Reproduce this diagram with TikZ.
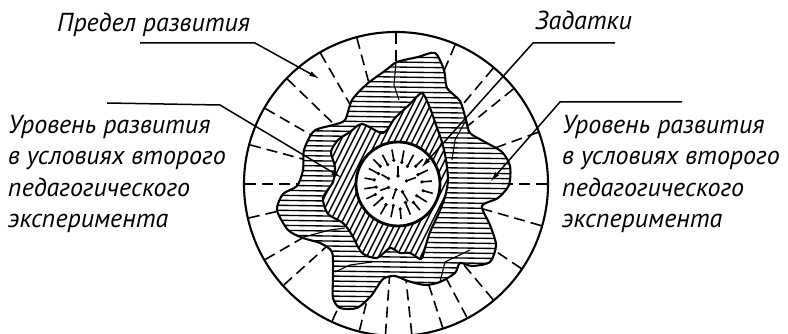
\documentclass[tikz,border=0pt]{standalone}
\usepackage{fontspec}
\setmainfont{PT Sans}
\usetikzlibrary{arrows.meta,calc}
\begin{document}
\begin{tikzpicture}[x=1pt,y=-1pt,
  lbl/.style={font=\itshape\fontsize{26}{31.5}\selectfont, inner sep=0pt, anchor=base west, align=left},
  leader/.style={line width=1.5pt, -{Latex[length=11pt,width=5pt]}},
  radial/.style={line width=1.6pt, dash pattern=on 11pt off 6pt},
  hatch/.style={line width=1.35pt},
  outline/.style={line width=2.1pt, line join=round}]
\useasboundingbox (0,0) rectangle (788,334);
\coordinate (c) at (396,184);
\def\outerblob{plot[smooth cycle, tension=0.45] coordinates {
 (397,62) (418,57) (435,53) (444,70) (447,88) (460,101) (466,120) (470,133) (485,142) (502,152) (510,166) (509,185) (498,198) (482,206) (490,225) (496,245) (490,262) (472,266) (460,263) (455,273) (440,282) (425,285) (408,281) (395,276) (383,279) (371,296) (357,308) (340,308) (333,298) (333,275) (332,252) (320,243) (303,238) (288,230) (277,210) (283,194) (297,186) (303,170) (304,150) (314,131) (333,125) (345,120) (352,100) (367,84) (386,70)}}
\def\innerstar{plot[smooth cycle, tension=0.45] coordinates {
 (422,93) (430,108) (436,125) (442,142) (446,160) (448,180) (445,197) (438,215) (430,232) (425,248) (421,259) (410,253) (400,253) (390,248) (377,258) (362,253) (352,235) (343,223) (328,214) (323,198) (333,182) (335,167) (331,152) (338,140) (350,132) (362,124) (383,133) (395,118) (410,104)}}
% outer circle
\draw[line width=2.1pt] (c) circle (152);
% radial dashed lines
\foreach \a in {0,20,39,50,67,90,105,120,136,150,165,180,193,210,222,245,256,266,276,288,298,310,326,344}
  \draw[radial] ($(c)+(-\a:151)$) -- ($(c)+(-\a:40)$);
% outer blob with horizontal hatching
\fill[white] \outerblob;
\begin{scope}
  \clip \outerblob;
  \foreach \y in {30,35,...,320} \draw[hatch] (260,\y) -- (530,\y+4);
  \draw[line width=1.1pt] (396,62) -- (394,85) -- (399,100);
  \draw[line width=1.1pt] (466,120) -- (455,140) -- (452,160);
  \draw[line width=1.1pt] (300,238) -- (330,230) -- (345,228);
  \draw[line width=1.1pt] (440,282) -- (445,262) -- (470,250);
  \draw[line width=1.1pt] (335,272) -- (350,265) -- (372,262);
\end{scope}
\draw[outline] \outerblob;
% inner star with diagonal hatching
\fill[white] \innerstar;
\begin{scope}
  \clip \innerstar;
  \foreach \x in {200,206,...,470} \draw[hatch] (\x,290) -- (\x+110,70);
\end{scope}
\draw[outline] \innerstar;
% inner circle
\fill[white] (398,184) circle (42);
\draw[line width=2.8pt] (398,184) circle (42);
% inner ticks (pins)
\foreach \a/\ri/\ro in {5/24/34,25/22/33,45/25/35,62/20/33,80/22/34,100/24/35,118/22/33,135/25/35,152/22/33,170/24/34,188/22/34,205/25/35,222/21/33,240/24/35,258/22/34,275/25/35,292/20/33,310/24/34,328/22/34,345/26/36,
  90/8/18,200/10/19,300/9/20,20/9/19,150/11/19,250/6/16}
{
  \draw[line width=1.6pt] ($(398,184)+(-\a:\ri)$) -- ($(398,184)+(-\a:\ro)$);
  \fill ($(398,184)+(-\a:\ri)$) circle (1.8);
}
% labels
\node[lbl] (tPredel) at (57,32) {Предел развития};
\node[lbl] (tZad) at (535,30) {Задатки};
\node[lbl] (tLeft) at (8,228) {Уровень развития\\в условиях второго\\педагогического\\эксперимента};
\node[lbl] (tRight) at (562,228) {Уровень развития\\в условиях второго\\педагогического\\эксперимента};
% leaders
\coordinate (p1a) at (140,43); \coordinate (p1b) at (255,43); \coordinate (p1c) at (320,79);
\coordinate (p2a) at (107,103); \coordinate (p2b) at (220,105); \coordinate (p2c) at (342,178);
\coordinate (p3a) at (615,43); \coordinate (p3b) at (533,43); \coordinate (p3c) at (421,168);
\coordinate (p4a) at (682,102); \coordinate (p4b) at (560,102); \coordinate (p4c) at (490,182);
\draw[leader] (p1a) -- (p1b) -- (p1c);
\draw[leader] (p2a) -- (p2b) -- (p2c);
\draw[leader] (p3a) -- (p3b) -- (p3c);
\draw[leader] (p4a) -- (p4b) -- (p4c);
\end{tikzpicture}
\end{document}
